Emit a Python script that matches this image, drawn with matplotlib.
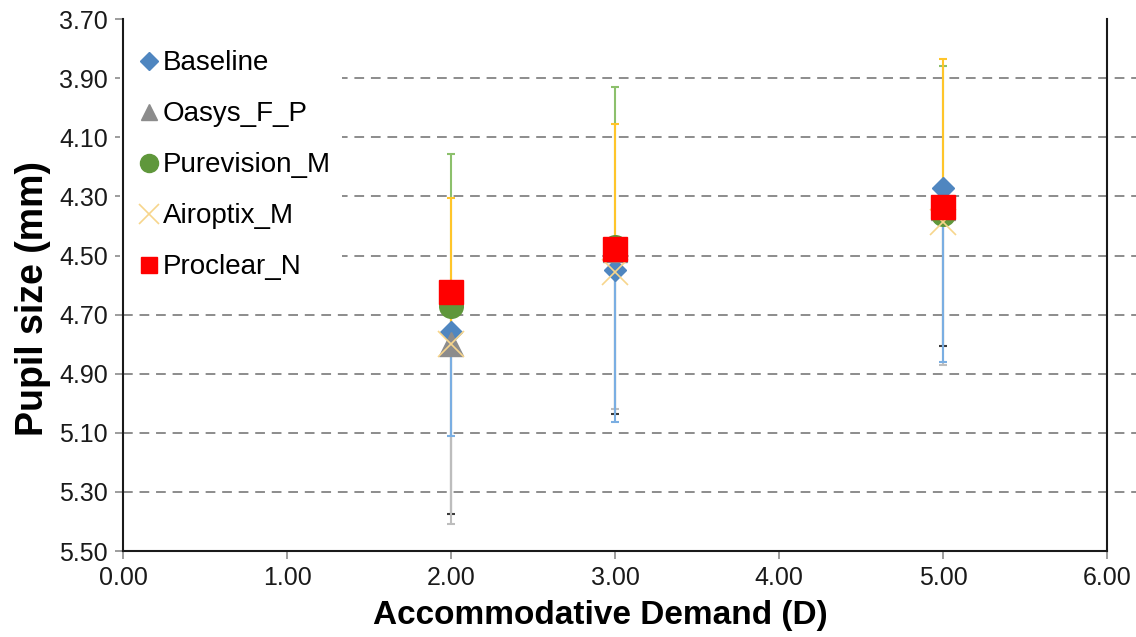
import numpy as np
import matplotlib
matplotlib.use("Agg")
from matplotlib import pyplot as plt
from matplotlib.lines import Line2D

# accommodative demand levels (D)
demand = [2.0, 3.0, 5.0]

# mean pupil size (mm) per lens
baseline = [4.76, 4.55, 4.27]
oasys = [4.80, 4.48, 4.34]
purevision = [4.67, 4.47, 4.36]
airoptix = [4.80, 4.555, 4.385]
proclear = [4.625, 4.478, 4.335]

# one-sided error bars (upper = towards larger pupil, drawn downward)
baseline_err = [0.35, 0.515, 0.592]
oasys_err = [0.61, 0.54, 0.53]
purevision_err = [0.515, 0.541, 0.501]
airoptix_err = [0.493, 0.499, 0.55]
proclear_err = [0.751, 0.559, 0.471]

labels = ["Baseline", "Oasys_F_P", "Purevision_M", "Airoptix_M", "Proclear_N"]
yticks = [3.70, 3.90, 4.10, 4.30, 4.50, 4.70, 4.90, 5.10, 5.30, 5.50]
xticks = [0, 1, 2, 3, 4, 5, 6]

plt.rcParams['font.family'] = ['Liberation Sans', 'DejaVu Sans']

fig = plt.figure(figsize=(11.36, 6.37), dpi=100)
ax = fig.add_axes([0.1083, 0.135, 0.8662, 0.835])

zero = np.zeros(3)

def bar(vals, err, down, color, z):
    e = np.array(err)
    yerr = [zero, e] if down else [e, zero]
    ax.errorbar(demand, vals, yerr=yerr, fmt='none', ecolor=color,
                elinewidth=1.5, capsize=3, capthick=1.5, zorder=z)

# error bars, ordered so the visible ends match
bar(proclear, proclear_err, True, '#3a3a3a', 2)
bar(oasys, oasys_err, True, '#bdbdbd', 3)
bar(baseline, baseline_err, True, '#7aaee2', 4)
bar(purevision, purevision_err, False, '#8cc06c', 5)
bar(airoptix, airoptix_err, False, '#ffc52a', 6)

# markers in series order
ax.plot(demand, baseline, 'D', color='#4f86c0', ms=11.5, mec='#4f86c0', zorder=10)
ax.plot(demand, oasys, '^', color='#8c8c8c', ms=17, mec='#8c8c8c', zorder=11)
ax.plot(demand, purevision, 'o', color='#5f973b', ms=17, mec='#5f973b', zorder=12)
ax.plot(demand, airoptix, 'x', color='#f7d58c', ms=19, mew=1.2, zorder=13)
ax.plot(demand, proclear, 's', color='#ff0000', ms=17, mec='#ff0000', zorder=14)

ax.set_xlim(0, 6)
ax.set_ylim(5.50, 3.70)
ax.set_xticks(xticks)
ax.set_yticks(yticks)
ax.set_xticklabels(['%.2f' % t for t in xticks])
ax.set_yticklabels(['%.2f' % t for t in yticks])
ax.tick_params(axis='both', labelsize=18, direction='out', length=6,
               width=1.2, color='#8c8c8c', labelcolor='#1a1a1a', pad=5)

# dashed gridlines running out to the figure edge
for t in yticks[1:-1]:
    ax.plot([0, 1.04], [t, t], transform=ax.get_yaxis_transform(),
            color='#8c8c8c', lw=1.4, ls=(0, (5, 3.5)), clip_on=False, zorder=0)

ax.spines['top'].set_visible(False)
for s in ['left', 'bottom', 'right']:
    ax.spines[s].set_linewidth(1.5)
    ax.spines[s].set_color('#1a1a1a')
    ax.spines[s].set_zorder(30)

ax.set_xlabel('Accommodative Demand (D)', fontsize=24, fontweight='bold', labelpad=7)
ax.xaxis.label.set_x(0.485)
ax.set_ylabel('Pupil size (mm)', fontsize=27, fontweight='bold', labelpad=6)
ax.yaxis.label.set_y(0.475)

handles = [
    Line2D([], [], ls='none', marker='D', color='#4f86c0', ms=9.5),
    Line2D([], [], ls='none', marker='^', color='#8c8c8c', ms=12),
    Line2D([], [], ls='none', marker='o', color='#5f973b', ms=13),
    Line2D([], [], ls='none', marker='x', color='#f7d58c', ms=15, mew=1.2),
    Line2D([], [], ls='none', marker='s', color='#ff0000', ms=12),
]
leg = ax.legend(handles, labels, loc='upper left', bbox_to_anchor=(-0.012, 0.978),
                fontsize=20, frameon=True, facecolor='white', edgecolor='none',
                framealpha=1, handletextpad=-0.15, handlelength=1.3,
                labelspacing=0.9, borderpad=0.4, borderaxespad=0.3)
leg.set_zorder(20)

fig.savefig('out.png', dpi=100)
